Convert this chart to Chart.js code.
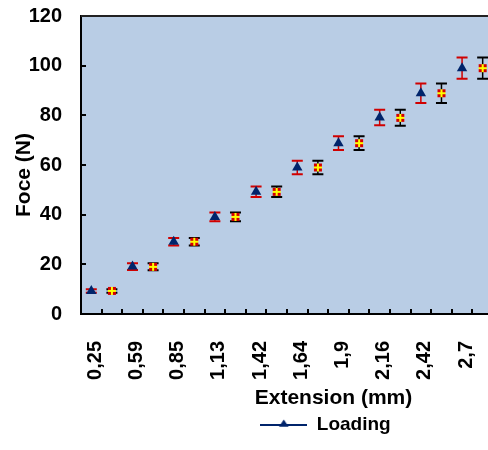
<!DOCTYPE html>
<html>
<head>
<meta charset="utf-8">
<script src="https://cdn.jsdelivr.net/npm/chart.js@4"></script>
<style>
html, body { margin: 0; padding: 0; overflow: hidden; background: #fff; width: 488px; height: 450px; }
#c { display: block; }
</style>
</head>
<body>
<canvas id="c" width="576" height="450" style="width:576px;height:450px"></canvas>
<script>
// ---- data ----
const categories = ['0,25', '0,59', '0,85', '1,13', '1,42', '1,64', '1,9', '2,16', '2,42', '2,7'];
const loadingForce = [9.3, 19.1, 29.1, 39.1, 49.2, 59.0, 68.8, 79.1, 88.9, 99.0];
const loadingError = [0.7, 1.35, 1.5, 1.8, 2.1, 2.75, 2.75, 3.1, 3.9, 4.3];
const unloadingForce = [9.3, 19.0, 29.1, 39.1, 49.2, 59.0, 68.8, 79.0, 88.9, 99.0];
const unloadingError = [0.7, 1.4, 1.5, 1.8, 2.1, 2.75, 2.75, 3.2, 3.9, 4.3];
const yTickValues = [0, 20, 40, 60, 80, 100, 120];

// category slots: each labelled extension has a "Loading" slot followed by a second-series slot
const slotMin = -0.5;
const slotMax = 23.24; // the plot area continues past the cropped right edge

const NAVY = '#00246b';
const FONT = '"Liberation Sans", Arial, sans-serif';

function makeSquarePlus() {
  const c = document.createElement('canvas');
  c.width = 10; c.height = 10;
  const g = c.getContext('2d');
  g.fillStyle = '#d40000';
  g.fillRect(1, 1, 8, 8);
  g.fillStyle = '#ffff00';
  g.fillRect(1, 4, 8, 2);
  g.fillRect(4, 1, 2, 8);
  return c;
}
function makeLegendIcon() {
  const c = document.createElement('canvas');
  c.width = 47; c.height = 13;
  const g = c.getContext('2d');
  g.strokeStyle = NAVY; g.lineWidth = 2;
  g.beginPath(); g.moveTo(0, 7); g.lineTo(47, 7); g.stroke();
  g.fillStyle = NAVY;
  g.beginPath(); g.moveTo(23.5, 1.5); g.lineTo(28.3, 8.8); g.lineTo(18.7, 8.8); g.closePath(); g.fill();
  return c;
}
const squarePlus = makeSquarePlus();
const legendIcon = makeLegendIcon();

const plotFrame = {
  id: 'plotFrame',
  beforeDraw(chart) {
    const {ctx, chartArea: a} = chart;
    ctx.save();
    ctx.fillStyle = '#b9cde5';
    ctx.fillRect(a.left, a.top, a.right - a.left, a.bottom - a.top);
    ctx.restore();
  },
  afterDraw(chart) {
    const {ctx, chartArea: a} = chart;
    ctx.save();
    ctx.strokeStyle = '#222';
    ctx.lineWidth = 2;
    ctx.beginPath();
    ctx.moveTo(a.left, a.top);
    ctx.lineTo(a.right, a.top);
    ctx.lineTo(a.right, a.bottom);
    ctx.stroke();
    ctx.fillStyle = '#000';
    ctx.font = 'bold 21px ' + FONT;
    ctx.textAlign = 'center';
    ctx.textBaseline = 'middle';
    // x axis title
    ctx.fillText('Extension (mm)', (a.left + a.right) / 2 + 8, a.bottom + 84.5);
    // y axis title
    ctx.translate(24, (a.top + a.bottom) / 2 + 10);
    ctx.rotate(-Math.PI / 2);
    ctx.fillText('Foce (N)', 0, 0);
    ctx.restore();
  }
};

const errorBars = {
  id: 'errorBars',
  beforeDatasetsDraw(chart) {
    const {ctx} = chart;
    const y = chart.scales.y;
    chart.data.datasets.forEach((ds, di) => {
      const meta = chart.getDatasetMeta(di);
      if (meta.hidden) return;
      meta.data.forEach((pt, i) => {
        const v = ds.data[i].y;
        const e = ds.errors[i];
        const yt = y.getPixelForValue(v + e);
        const yb = y.getPixelForValue(v - e);
        const x = pt.x;
        ctx.save();
        ctx.strokeStyle = ds.errorColor;
        ctx.lineWidth = 1.5;
        ctx.beginPath(); ctx.moveTo(x, yt); ctx.lineTo(x, yb); ctx.stroke();
        ctx.lineWidth = 2;
        ctx.beginPath();
        ctx.moveTo(x - 5.5, yt); ctx.lineTo(x + 5.5, yt);
        ctx.moveTo(x - 5.5, yb); ctx.lineTo(x + 5.5, yb);
        ctx.stroke();
        ctx.restore();
      });
    });
  }
};

function noPadding(scale) {
  scale.paddingTop = 0; scale.paddingBottom = 0;
  scale.paddingLeft = 0; scale.paddingRight = 0;
}

new Chart(document.getElementById('c'), {
  type: 'scatter',
  data: {
    datasets: [
      {
        label: 'Loading',
        data: loadingForce.map((v, i) => ({x: 2 * i, y: v})),
        errors: loadingError,
        errorColor: '#d00000',
        pointStyle: 'triangle',
        pointRadius: 6,
        pointHoverRadius: 6,
        backgroundColor: NAVY,
        borderColor: NAVY,
        borderWidth: 0,
        showLine: false
      },
      {
        label: 'Unloading',
        data: unloadingForce.map((v, i) => ({x: 2 * i + 1, y: v})),
        errors: unloadingError,
        errorColor: '#000000',
        pointStyle: squarePlus,
        pointRadius: 5,
        pointHoverRadius: 5,
        backgroundColor: '#d40000',
        borderColor: '#d40000',
        showLine: false
      }
    ]
  },
  options: {
    responsive: false,
    devicePixelRatio: 1,
    animation: false,
    events: [],
    layout: { padding: { top: 16, right: 0, bottom: 6, left: 0 } },
    scales: {
      x: {
        type: 'linear',
        min: slotMin,
        max: slotMax,
        afterBuildTicks(scale) {
          const t = [];
          for (let i = 0; i <= Math.floor(slotMax); i++) t.push({value: i});
          scale.ticks = t;
        },
        afterFit(scale) { scale.height = 97; noPadding(scale); },
        grid: {
          offset: true,
          drawOnChartArea: false,
          drawTicks: true,
          tickLength: -5,
          color: '#000',
          lineWidth: 2
        },
        border: { display: true, color: '#000', width: 2 },
        ticks: {
          autoSkip: false,
          minRotation: 90,
          maxRotation: 90,
          padding: 32,
          labelOffset: 4,
          color: '#000',
          font: { size: 20, weight: 'bold', family: FONT },
          callback(value) {
            return (value % 2 === 0 && categories[value / 2] !== undefined) ? categories[value / 2] : '';
          }
        },
        title: { display: false }
      },
      y: {
        min: 0,
        max: 120,
        afterBuildTicks(scale) { scale.ticks = yTickValues.map(v => ({value: v})); },
        afterFit(scale) { scale.width = 81; noPadding(scale); },
        grid: {
          drawOnChartArea: false,
          drawTicks: true,
          tickLength: -5,
          color: '#000',
          lineWidth: 2
        },
        border: { display: true, color: '#000', width: 2 },
        ticks: {
          padding: 24,
          color: '#000',
          font: { size: 20, weight: 'bold', family: FONT }
        }
      }
    },
    plugins: {
      tooltip: { enabled: false },
      legend: {
        display: true,
        position: 'bottom',
        fullSize: false,
        labels: {
          usePointStyle: true,
          pointStyleWidth: 47,
          padding: 4,
          color: '#000',
          font: { size: 19, weight: 'bold', family: FONT },
          generateLabels(chart) {
            const items = Chart.defaults.plugins.legend.labels.generateLabels(chart);
            items.forEach(it => { if (it.datasetIndex === 0) it.pointStyle = legendIcon; });
            return items;
          },
          filter: item => item.datasetIndex === 0
        }
      }
    }
  },
  plugins: [plotFrame, errorBars]
});
</script>
</body>
</html>
